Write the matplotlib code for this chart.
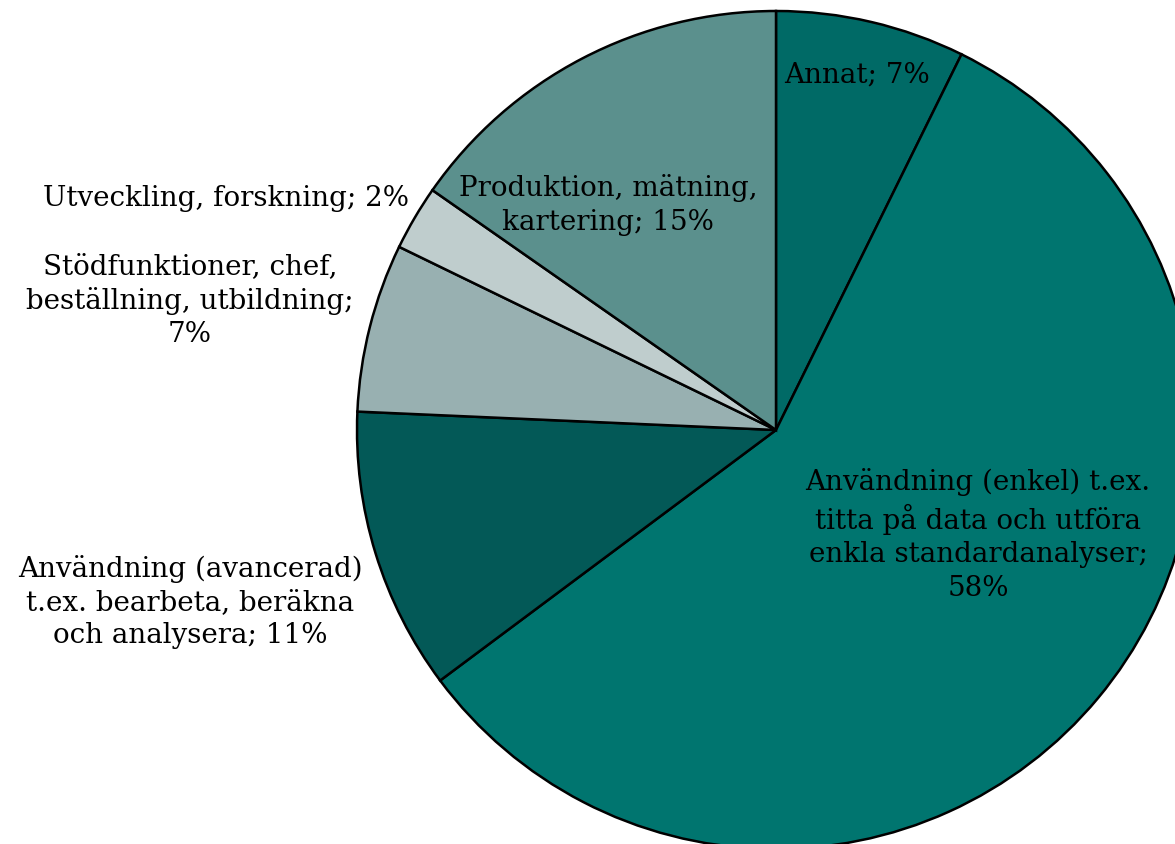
import matplotlib
matplotlib.use("Agg")
import matplotlib.pyplot as plt

categories = ["Annat", "Användning (enkel) t.ex.\ntitta på data och utföra\nenkla standardanalyser",
              "Användning (avancerad)\nt.ex. bearbeta, beräkna\noch analysera",
              "Stödfunktioner, chef,\nbeställning, utbildning",
              "Utveckling, forskning", "Produktion, mätning,\nkartering"]
values = [7.3, 57.5, 10.9, 6.5, 2.5, 15.3]
pct_labels = ["7%", "58%", "11%", "7%", "2%", "15%"]
colors = ["#006a66", "#00756f", "#035957", "#98b0b1", "#bfcdcd", "#5b908d"]

W, H = 1175, 845
fig = plt.figure(figsize=(W / 100, H / 100), dpi=100)
ax = fig.add_axes([0, 0, 1, 1])

cx, cy, r = 776, H - 431, 419
ax.pie(values, colors=colors, startangle=90, counterclock=False,
       center=(cx, cy), radius=r, frame=True,
       wedgeprops=dict(edgecolor="black", linewidth=1.8))
ax.set_xlim(0, W)
ax.set_ylim(0, H)
ax.set_aspect("equal")
ax.axis("off")

font = dict(family="DejaVu Serif", fontsize=20, color="black",
            linespacing=1.3, ha="center", va="center")
texts = [
    (categories[0] + "; " + pct_labels[0], 857, H - 75),
    (categories[1] + ";\n" + pct_labels[1], 978, H - 535),
    (categories[2] + "; " + pct_labels[2], 190, H - 602),
    (categories[3] + ";\n" + pct_labels[3], 190, H - 301),
    (categories[4] + "; " + pct_labels[4], 226, H - 199),
    (categories[5] + "; " + pct_labels[5], 608, H - 205),
]
for t, x, y in texts:
    ax.text(x, y, t, **font)

fig.savefig("out.png", dpi=100)
